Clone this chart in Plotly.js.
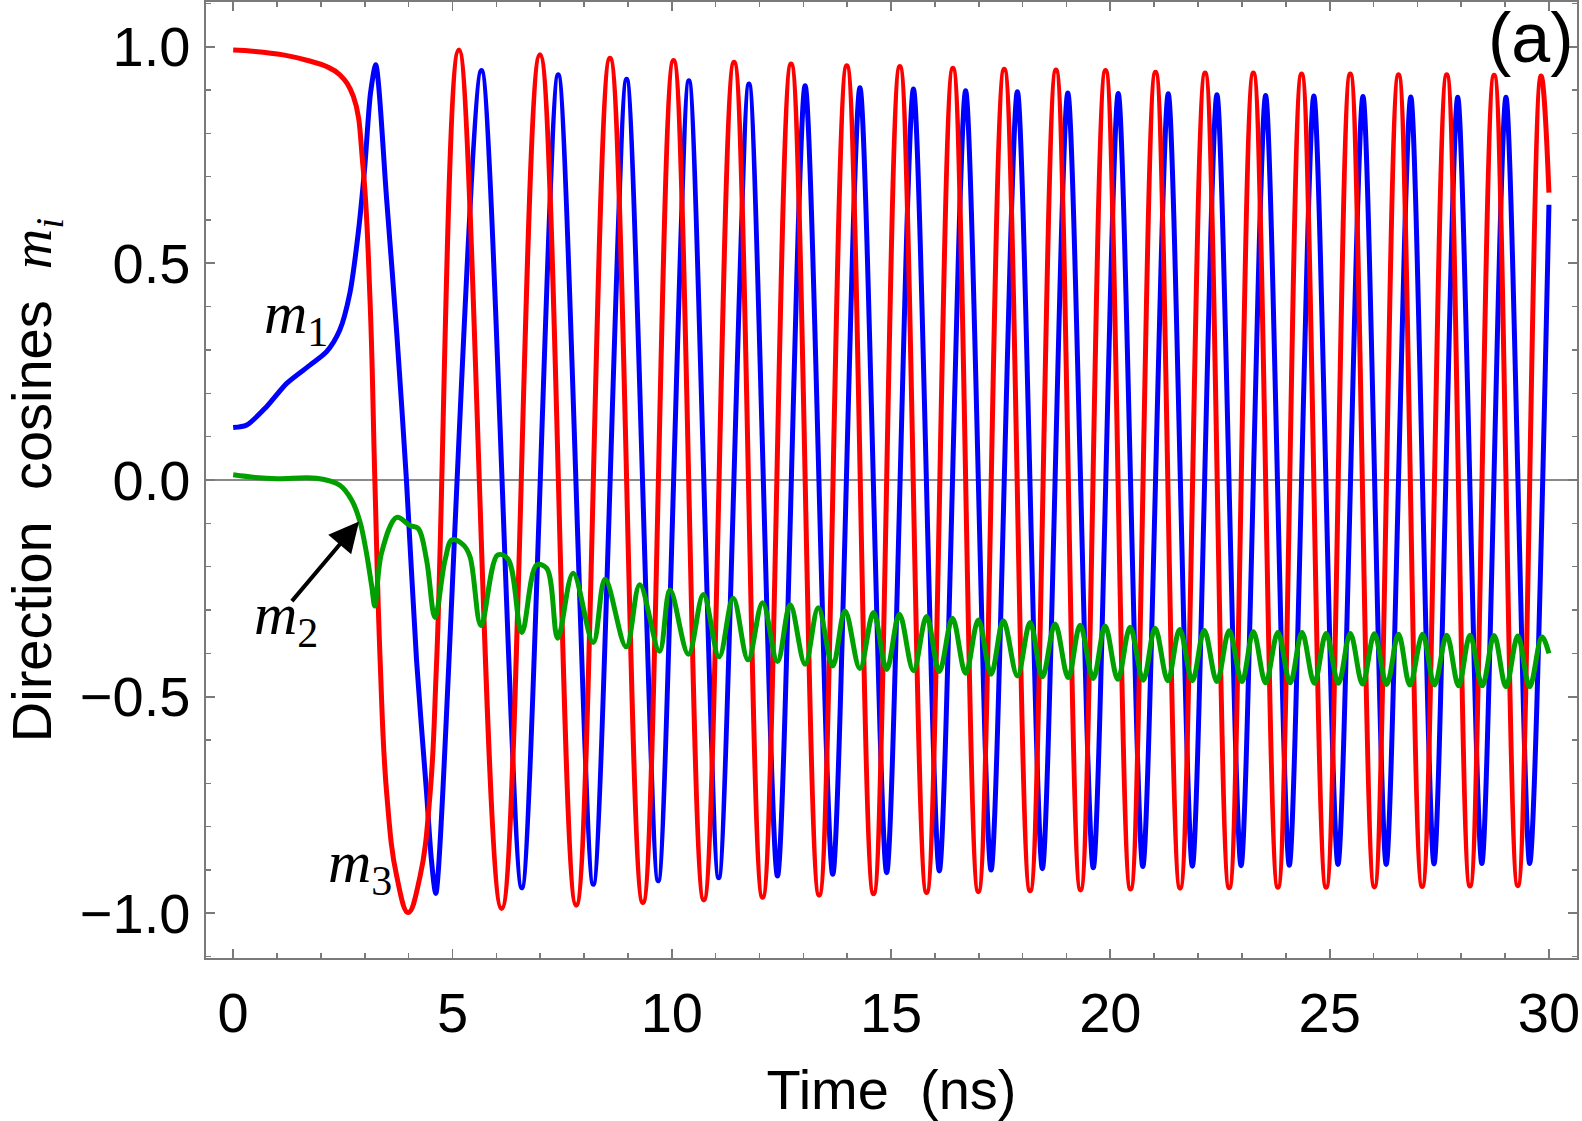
<!DOCTYPE html>
<html>
<head>
<meta charset="utf-8">
<script src="https://cdn.plot.ly/plotly-3.0.1.min.js"></script>
<style>
  html, body { margin: 0; padding: 0; background: #ffffff; }
  #chart { width: 1582px; height: 1121px; }
</style>
</head>
<body>
<div id="chart"></div>
<script>
// ---- Data (time in ns, direction cosines) ----
// m3 (red)
const tM3 = [0, 0.5, 1.14, 1.7, 2.13, 2.43, 2.74, 2.96, 3.12, 3.23, 3.35, 3.5, 3.73, 3.99, 4.26, 4.49, 4.64,
  5.147, 6.12, 6.994, 7.82, 8.591, 9.34, 10.04, 10.73, 11.42, 12.07, 12.72, 13.36, 13.99, 14.6, 15.2, 15.81,
  16.41, 16.99, 17.58, 18.17, 18.76, 19.32, 19.89, 20.46, 21.03, 21.59, 22.16, 22.71, 23.26, 23.82, 24.36,
  24.92, 25.47, 26.02, 26.57, 27.11, 27.67, 28.2, 28.75, 29.29, 29.82, 30];
const vM3 = [0.992, 0.989, 0.981, 0.968, 0.954, 0.935, 0.885, 0.723, 0.415, 0.0, -0.415, -0.723, -0.915, -0.998, -0.915, -0.723, -0.415,
  0.992, -0.989, 0.981, -0.981, 0.973, -0.975, 0.968, -0.969, 0.964, -0.963, 0.96, -0.958, 0.956, -0.955, 0.954, -0.952,
  0.95, -0.95, 0.948, -0.948, 0.946, -0.946, 0.945, -0.944, 0.941, -0.942, 0.939, -0.941, 0.939, -0.94, 0.937,
  -0.94, 0.937, -0.939, 0.935, -0.938, 0.935, -0.937, 0.934, -0.936, 0.932, 0.663];

// m1 (blue)
const tM1 = [0, 0.31, 0.76, 1.22, 1.75, 2.13, 2.43, 2.66, 2.85, 3.0, 3.13, 3.25, 3.5, 3.73, 3.95, 4.18, 4.41, 4.52,
  4.62, 5.66, 6.58, 7.41, 8.21, 8.97, 9.69, 10.39, 11.07, 11.76, 12.41, 13.04, 13.67, 14.29, 14.9, 15.51,
  16.1, 16.7, 17.28, 17.88, 18.45, 19.03, 19.61, 20.18, 20.74, 21.32, 21.87, 22.43, 22.98, 23.54, 24.08,
  24.64, 25.19, 25.76, 26.29, 26.85, 27.38, 27.92, 28.47, 29.02, 29.56, 30];
const vM1 = [0.121, 0.127, 0.169, 0.223, 0.265, 0.296, 0.346, 0.431, 0.569, 0.723, 0.892, 0.958, 0.646, 0.338, 0.0, -0.415, -0.723, -0.877,
  -0.954, 0.945, -0.941, 0.935, -0.933, 0.925, -0.925, 0.921, -0.918, 0.914, -0.914, 0.91, -0.91, 0.905, -0.906, 0.902,
  -0.902, 0.898, -0.9, 0.896, -0.897, 0.893, -0.895, 0.892, -0.892, 0.891, -0.891, 0.889, -0.89, 0.887, -0.889,
  0.886, -0.887, 0.885, -0.887, 0.884, -0.886, 0.883, -0.885, 0.883, -0.885, 0.635];

// m2 (green)
const tM2 = [0, 0.5, 1.0, 1.9, 2.43, 2.7, 2.89, 3.04, 3.16, 3.23, 3.38, 3.73, 4.03, 4.22, 4.41, 4.6, 4.83, 4.99,
  5.25, 5.4, 5.65, 6.03, 6.27, 6.58, 6.92, 7.15, 7.4, 7.75, 8.21, 8.48, 8.96, 9.27, 9.72, 9.96, 10.38, 10.72,
  11.08, 11.4, 11.74, 12.07, 12.41, 12.7, 13.04, 13.34, 13.67, 13.95, 14.29, 14.6, 14.9, 15.19, 15.51, 15.81,
  16.1, 16.4, 16.7, 16.99, 17.28, 17.56, 17.88, 18.17, 18.45, 18.74, 19.04, 19.31, 19.61, 19.88, 20.17, 20.45,
  20.75, 21.02, 21.31, 21.58, 21.87, 22.14, 22.43, 22.71, 23.0, 23.26, 23.54, 23.82, 24.1, 24.37, 24.65, 24.92,
  25.2, 25.47, 25.75, 26.02, 26.3, 26.57, 26.83, 27.12, 27.39, 27.67, 27.94, 28.2, 28.48, 28.75, 29.02, 29.29,
  29.56, 29.84, 30];
const vM2 = [0.012, 0.006, 0.003, 0.004, -0.012, -0.046, -0.096, -0.169, -0.246, -0.291, -0.169, -0.086, -0.105, -0.112, -0.185, -0.317, -0.185, -0.138,
  -0.15, -0.177, -0.336, -0.173, -0.183, -0.352, -0.196, -0.204, -0.365, -0.215, -0.375, -0.229, -0.385, -0.242, -0.395, -0.254, -0.402, -0.264,
  -0.408, -0.273, -0.415, -0.283, -0.419, -0.288, -0.425, -0.295, -0.429, -0.302, -0.435, -0.306, -0.437, -0.31, -0.44, -0.315,
  -0.442, -0.319, -0.446, -0.323, -0.448, -0.325, -0.452, -0.329, -0.454, -0.332, -0.456, -0.335, -0.458, -0.337, -0.46, -0.34,
  -0.462, -0.342, -0.463, -0.345, -0.463, -0.347, -0.465, -0.348, -0.465, -0.35, -0.468, -0.352, -0.468, -0.352, -0.469, -0.354,
  -0.469, -0.354, -0.471, -0.355, -0.472, -0.356, -0.473, -0.356, -0.473, -0.358, -0.475, -0.358, -0.475, -0.359, -0.477, -0.36,
  -0.477, -0.362, -0.4];

const xTickVals = [0, 5, 10, 15, 20, 25, 30];
const yTickVals = [-1.0, -0.5, 0.0, 0.5, 1.0];

// ---- Styles ----
const sansFont = "Arial, 'Liberation Sans', Helvetica, sans-serif";
const serifFont = "'Times New Roman', 'Liberation Serif', 'DejaVu Serif', serif";
const frameGray = '#7a7a7a';

const traces = [
  { x: tM1, y: vM1, type: 'scatter', mode: 'lines', name: 'm1',
    line: { color: '#0000ff', width: 5, shape: 'spline', smoothing: 0.75 } },
  { x: tM3, y: vM3, type: 'scatter', mode: 'lines', name: 'm3',
    line: { color: '#ff0000', width: 5, shape: 'spline', smoothing: 1.2 } },
  { x: tM2, y: vM2, type: 'scatter', mode: 'lines', name: 'm2',
    line: { color: '#00a000', width: 5, shape: 'spline', smoothing: 1.0 } }
];

const axisCommon = {
  showline: true, linecolor: frameGray, linewidth: 2.4, mirror: 'allticks',
  ticks: 'inside', ticklen: 9, tickwidth: 1.8, tickcolor: frameGray,
  showgrid: false, zeroline: false,
  tickfont: { family: sansFont, size: 56, color: '#000' }
};

const layout = {
  width: 1582, height: 1121,
  margin: { l: 206, r: 5, t: 2, b: 163, pad: 0 },
  paper_bgcolor: '#fff', plot_bgcolor: '#fff',
  showlegend: false,
  xaxis: Object.assign({}, axisCommon, {
    range: [-0.62, 30.64], tickmode: 'array', tickvals: xTickVals,
    ticktext: xTickVals.map(String),
    minor: { dtick: 1, ticks: 'inside', ticklen: 5, tickwidth: 1.5, tickcolor: frameGray, showgrid: false },
    ticklabelstandoff: 4,
    title: { text: 'Time\u00a0\u00a0(ns)', font: { family: sansFont, size: 56, color: '#000' }, standoff: 36 }
  }),
  yaxis: Object.assign({}, axisCommon, {
    range: [-1.103, 1.103], tickmode: 'array', tickvals: yTickVals,
    ticktext: yTickVals.map(v => (v < 0 ? '\u2212' : '') + Math.abs(v).toFixed(1)),
    minor: { dtick: 0.1, ticks: 'inside', ticklen: 5, tickwidth: 1.5, tickcolor: frameGray, showgrid: false },
    zeroline: true, zerolinecolor: '#8a8a8a', zerolinewidth: 1.2,
    ticklabelstandoff: 2,
    title: { text: 'Direction\u00a0\u00a0cosines\u00a0\u00a0<span style="font-family:' + "'Times New Roman','Liberation Serif',serif" + '"><i>m</i><sub><i>i</i></sub></span>',
             font: { family: sansFont, size: 56, color: '#000' }, standoff: 30 }
  }),
  annotations: [
    { x: 1.43, y: 0.375, xref: 'x', yref: 'y', text: '<i>m</i><sub>1</sub>', showarrow: false,
      font: { family: serifFont, size: 60, color: '#000' }, xanchor: 'center', yanchor: 'middle' },
    { x: 1.2, y: -0.32, xref: 'x', yref: 'y', text: '<i>m</i><sub>2</sub>', showarrow: false,
      font: { family: serifFont, size: 60, color: '#000' }, xanchor: 'center', yanchor: 'middle' },
    { x: 2.9, y: -0.893, xref: 'x', yref: 'y', text: '<i>m</i><sub>3</sub>', showarrow: false,
      font: { family: serifFont, size: 60, color: '#000' }, xanchor: 'center', yanchor: 'middle' },
    { x: 2.87, y: -0.096, xref: 'x', yref: 'y', ax: 1.31, ay: -0.283, axref: 'x', ayref: 'y',
      text: '', showarrow: true, arrowhead: 2, arrowsize: 1.5, arrowwidth: 4, arrowcolor: '#000' },
    { x: 29.6, y: 1.02, xref: 'x', yref: 'y', text: '(a)', showarrow: false,
      font: { family: sansFont, size: 70, color: '#000' }, xanchor: 'center', yanchor: 'middle' }
  ]
};

Plotly.newPlot('chart', traces, layout, { staticPlot: true, displayModeBar: false });
</script>
</body>
</html>
